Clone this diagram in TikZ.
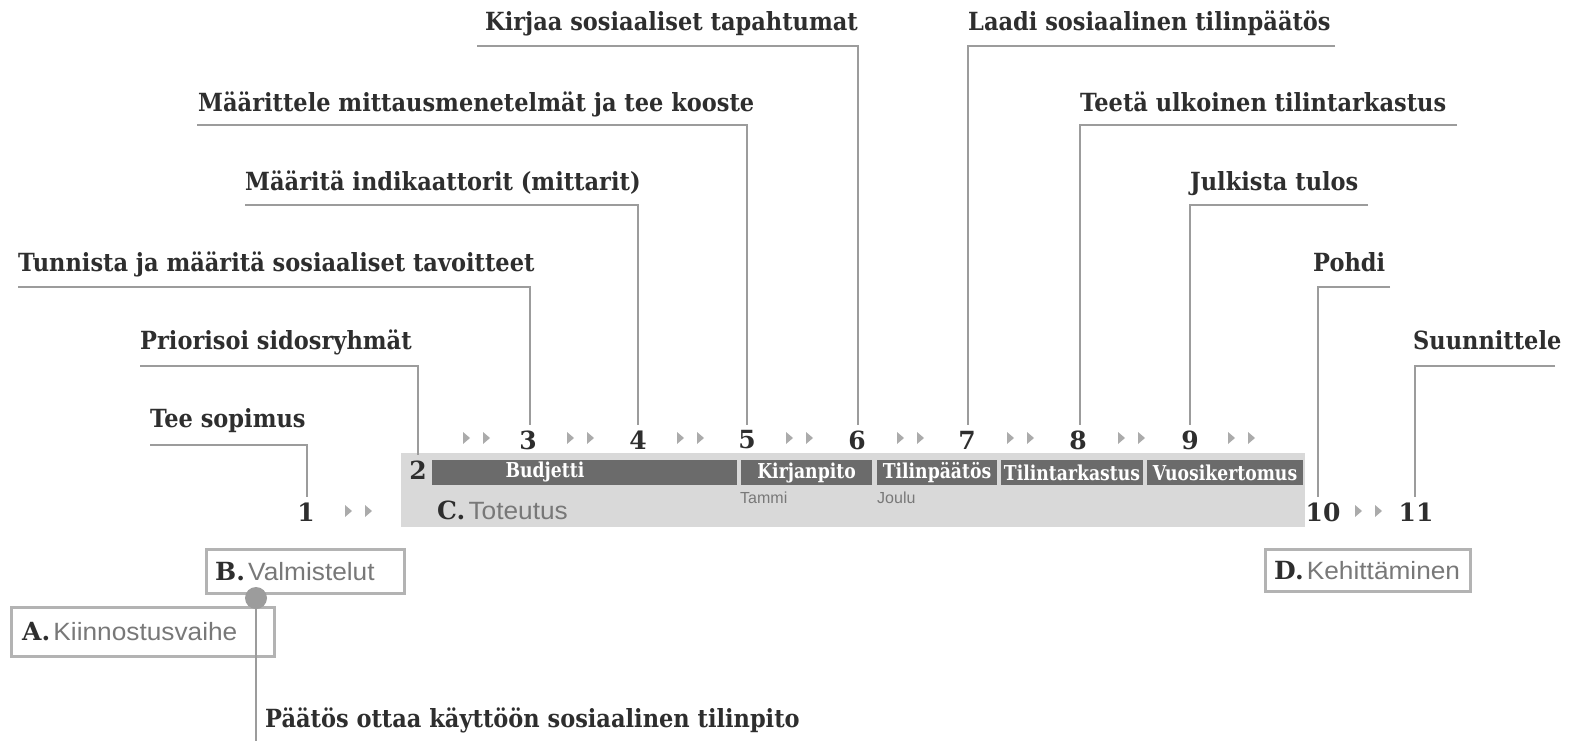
\documentclass[tikz,border=0pt]{standalone}
\usepackage{fontspec}
\setmainfont{DejaVu Serif}
\newfontfamily\lblfont[FakeStretch=0.9]{DejaVu Serif}
\newfontfamily\barfont[FakeStretch=0.84]{DejaVu Serif}
\newfontfamily\numfont{DejaVu Serif}
\newfontfamily\sansl[FakeStretch=1.05]{Liberation Sans}
\newfontfamily\sanss{Liberation Sans}
\definecolor{txt}{HTML}{2E2E2E}
\definecolor{lin}{HTML}{9C9C9C}
\definecolor{bgc}{HTML}{D9D9D9}
\definecolor{barc}{HTML}{6B6B6B}
\definecolor{tric}{HTML}{ABABAB}
\definecolor{boxc}{HTML}{B3B3B3}
\definecolor{sgray}{HTML}{787878}
\tikzset{
  lbl/.style={anchor=base west, inner sep=0pt, text=txt, font=\lblfont\bfseries\fontsize{25}{30}\selectfont},
  num/.style={text=txt, font=\numfont\bfseries\fontsize{25}{30}\selectfont, inner sep=3pt, outer sep=3pt},
  conn/.style={draw=lin, line width=2.6pt},
  bar/.style={fill=barc, draw=none, minimum height=25, inner sep=0pt},
  bartxt/.style={text=white, font=\barfont\bfseries\fontsize{20.5}{24}\selectfont, inner sep=0pt},
  phasebox/.style={draw=boxc, line width=2.6pt, anchor=north west, inner sep=0pt},
  phasetxt/.style={anchor=west, inner sep=0pt},
  small/.style={text=sgray, font=\sanss\fontsize{16}{18}\selectfont, anchor=west, inner sep=0pt},
  pair/.pic={\fill[tric] (-13,-6) -- (-6,0) -- (-13,6) -- cycle; \fill[tric] (7,-6) -- (14,0) -- (7,6) -- cycle;}
}
\newcommand{\phase}[2]{{\numfont\bfseries\fontsize{25}{28}\selectfont\color{txt}#1} {\sansl\fontsize{25}{28}\selectfont\color{sgray}#2}}
\begin{document}
\begin{tikzpicture}[x=1pt,y=-1pt]
\useasboundingbox (0,0) rectangle (1570,741);
% background of phase C
\fill[bgc] (401,453) rectangle (1305,527);
% bars
\node[bar, minimum width=305] (bBud) at (584.5,472.5) {};
\node[bartxt] (tBud) at (545,472) {Budjetti};
\node[bar, minimum width=131] (bKir) at (806.5,472.5) {};
\node[bartxt] at (bKir) {Kirjanpito};
\node[bar, minimum width=120] (bTil) at (937,472.5) {};
\node[bartxt] at (bTil) {Tilinpäätös};
\node[bar, minimum width=142] (bTar) at (1072,472.5) {};
\node[bartxt] at (bTar) {Tilintarkastus};
\node[bar, minimum width=156] (bVuo) at (1225,472.5) {};
\node[bartxt] at (bVuo) {Vuosikertomus};
\node[small] (tammi) at (740,498) {Tammi};
\node[small] (joulu) at (877,498) {Joulu};
\node[anchor=west, inner sep=0pt] (C) at (437,510) {\phase{C.}{Toteutus}};
% step numbers
\node[num] (n1) at (306,512) {1};
\node[num] (n2) at (418,470) {2};
\node[num] (n3) at (528,440) {3};
\node[num] (n4) at (638,440) {4};
\node[num] (n5) at (747,440) {5};
\node[num] (n6) at (857,440) {6};
\node[num] (n7) at (967,440) {7};
\node[num] (n8) at (1078,440) {8};
\node[num] (n9) at (1190,440) {9};
\node[num] (n10) at (1323,512) {10};
\node[num] (n11) at (1416,512) {11};
% triangle pairs
\foreach \x in {476,580,690,799,910,1020,1131,1241} \pic at (\x,438) {pair};
\pic at (358,511) {pair};
\pic at (1368,511) {pair};
% labels
\node[lbl] (l1) at (150,427) {Tee sopimus};
\node[lbl] (l2) at (140,349) {Priorisoi sidosryhmät};
\node[lbl] (l3) at (18,271) {Tunnista ja määritä sosiaaliset tavoitteet};
\node[lbl] (l4) at (245,190) {Määritä indikaattorit (mittarit)};
\node[lbl] (l5) at (198,111) {Määrittele mittausmenetelmät ja tee kooste};
\node[lbl] (l6) at (485,31) {Kirjaa sosiaaliset tapahtumat};
\node[lbl] (l7) at (968,31) {Laadi sosiaalinen tilinpäätös};
\node[lbl] (l8) at (1080,111) {Teetä ulkoinen tilintarkastus};
\node[lbl] (l9) at (1190,190) {Julkista tulos};
\node[lbl] (l10) at (1313,271) {Pohdi};
\node[lbl] (l11) at (1413,349) {Suunnittele};
\node[lbl] (l0) at (265,727) {Päätös ottaa käyttöön sosiaalinen tilinpito};
% connector corners
\coordinate (a1) at (150,445); \coordinate (c1) at (307,445);
\coordinate (a2) at (140,366); \coordinate (c2) at (418,366);
\coordinate (a3) at (18,287);  \coordinate (c3) at (530,287);
\coordinate (a4) at (245,205); \coordinate (c4) at (638,205);
\coordinate (a5) at (197,125); \coordinate (c5) at (747,125);
\coordinate (a6) at (477,46);  \coordinate (c6) at (858,46);
\coordinate (a7) at (1335,46); \coordinate (c7) at (968,46);
\coordinate (a8) at (1457,125);\coordinate (c8) at (1080,125);
\coordinate (a9) at (1368,205);\coordinate (c9) at (1190,205);
\coordinate (a10) at (1390,287);\coordinate (c10) at (1318,287);
\coordinate (a11) at (1555,366);\coordinate (c11) at (1415,366);
\foreach \i in {1,...,11} \draw[conn] (a\i) -- (c\i) -- (c\i |- n\i.north);
% phase boxes
\node[phasebox, minimum width=198, minimum height=44] (B) at (205,548) {};
\node[phasetxt] (Bt) at ([xshift=10pt]B.west) {\phase{B.}{Valmistelut}};
\node[phasebox, minimum width=263, minimum height=49] (A) at (10,606) {};
\node[phasetxt] (At) at ([xshift=12pt]A.west) {\phase{A.}{Kiinnostusvaihe}};
\node[phasebox, minimum width=205, minimum height=42] (D) at (1264,548) {};
\node[phasetxt] (Dt) at ([xshift=10pt]D.west) {\phase{D.}{Kehittäminen}};
% decision marker
\node[circle, fill=lin, minimum size=22, inner sep=0pt] (dot) at (256,598) {};
\coordinate (bot) at (256,741);
\draw[conn] (dot) -- (bot);
\end{tikzpicture}
\end{document}
